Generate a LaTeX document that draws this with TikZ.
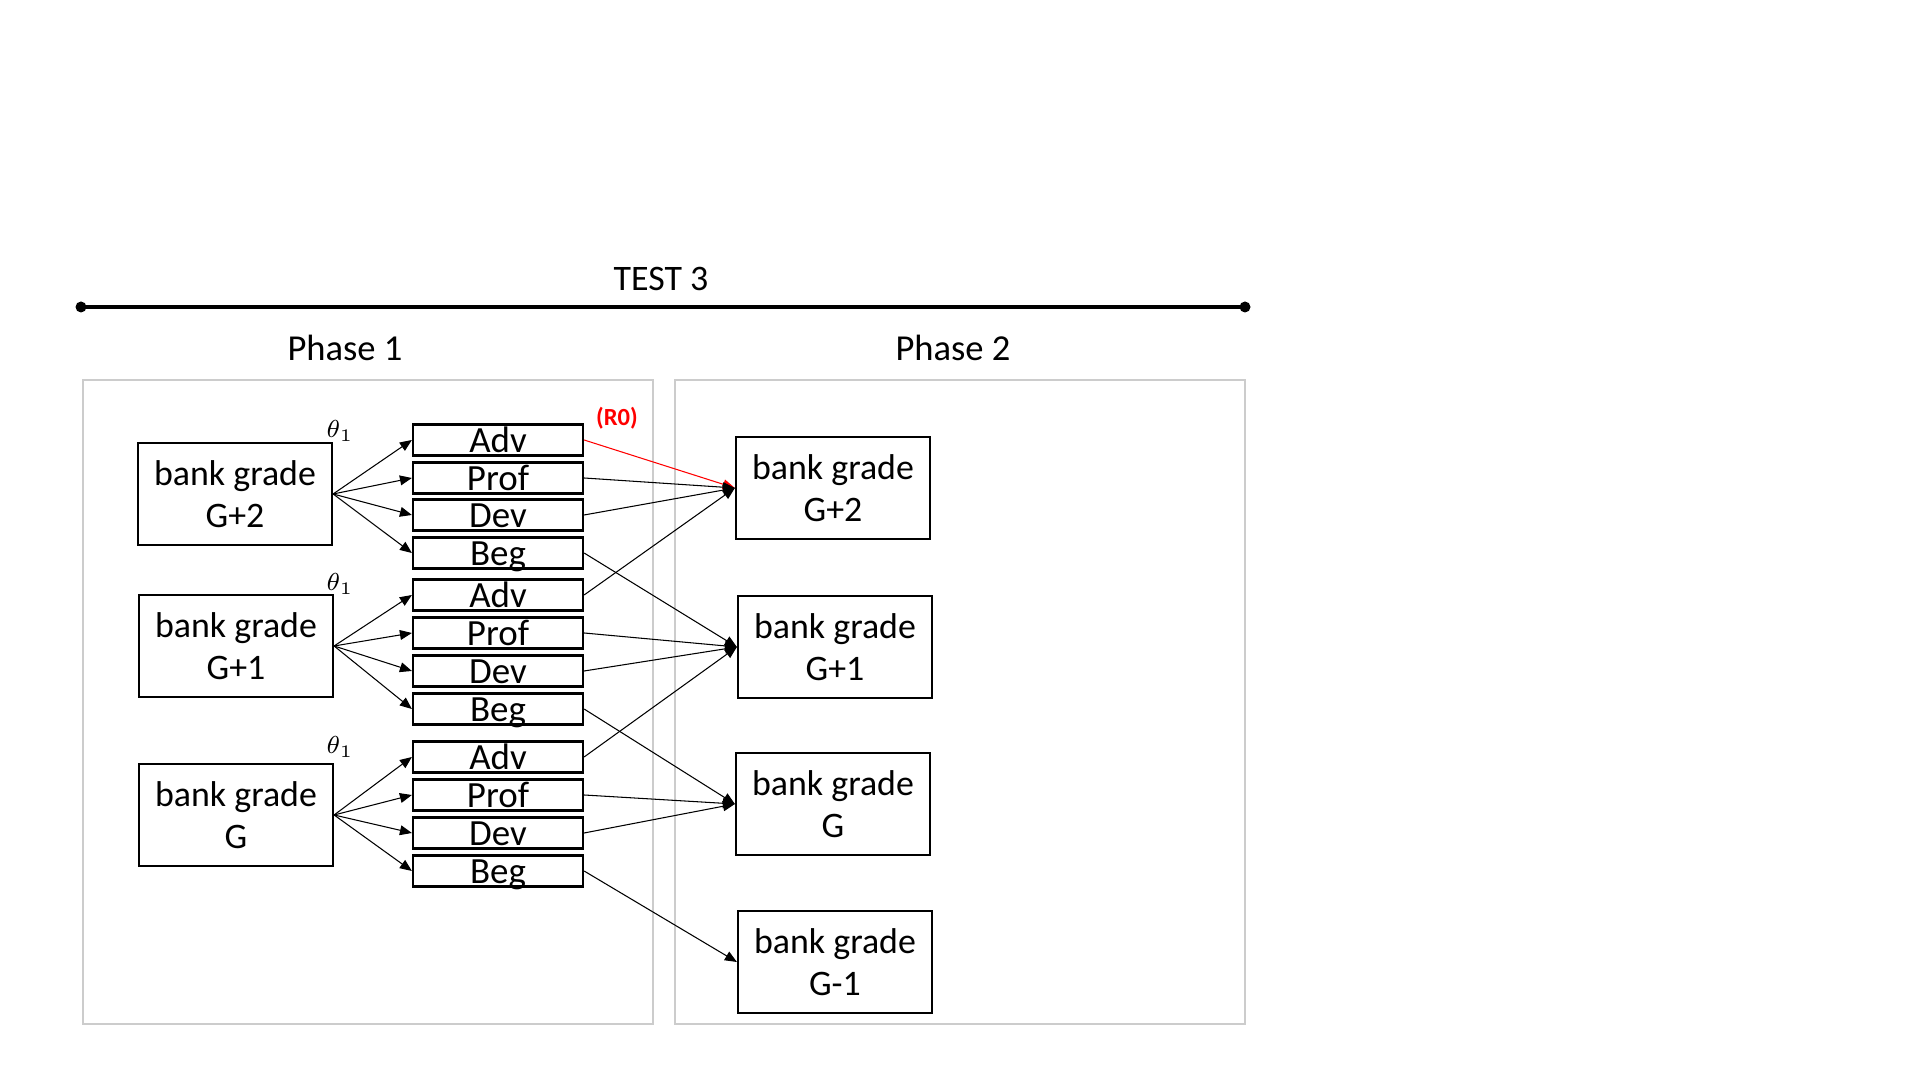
\documentclass[tikz,border=0pt]{standalone}
\usepackage{fontspec}
\setmainfont{Carlito}
\usepackage{amsmath}
\usetikzlibrary{arrows.meta}
\usetikzlibrary{positioning}
\usepackage{xcolor}

\begin{document}
\begin{tikzpicture}[x=0.01cm,y=-0.01cm,
  grade/.style={draw,line width=0.6pt,minimum width=1.94cm,minimum height=1.02cm,inner sep=0pt,align=center,font=\fontsize{10.2}{11.9}\selectfont},
  level/.style={draw,line width=0.6pt,minimum width=1.7cm,minimum height=0.31cm,inner sep=0pt,text height=7.2pt,text depth=0pt,font=\fontsize{10.5}{10}\selectfont},
  phase/.style={draw=black!20,line width=0.5pt},
  link/.style={line width=0.3pt,-{Triangle[length=3.4pt,width=2.8pt]}}]
\useasboundingbox (0,0) rectangle (1920,1080);
% timeline
\coordinate (tl) at (81,307);
\coordinate (tr) at (1245,307);
\draw[line width=1.1pt] (tl)--(tr);
\fill (tl) circle(5.5) (tr) circle(5.5);
\node (test) at (661,279) {\fontsize{10.2}{12}\selectfont TEST 3};
\node (ph1) at (345,348) {\fontsize{10.4}{12}\selectfont Phase 1};
\node (ph2) at (953,348) {\fontsize{10.4}{12}\selectfont Phase 2};
\draw[phase] (83,380) rectangle (653,1024);
\draw[phase] (675,380) rectangle (1245,1024);

% phase 1, grades
\node[grade] (l2) at (235,494) {bank grade\\G+2};
\node[grade] (l1) at (236,646) {bank grade\\G+1};
\node[grade] (l0) at (236,815) {bank grade\\G};
\node (t2) at (340,431) {\fontsize{7}{7}\selectfont$\theta_1$};
\node (t1) at (340,584) {\fontsize{7}{7}\selectfont$\theta_1$};
\node (t0) at (340,747) {\fontsize{7}{7}\selectfont$\theta_1$};

% phase 1, levels
\node[level] (a2) at (498,440) {Adv};
\node[level] (p2) at (498,478) {Prof};
\node[level] (d2) at (498,515) {Dev};
\node[level] (b2) at (498,553) {Beg};
\node[level] (a1) at (498,595) {Adv};
\node[level] (p1) at (498,633) {Prof};
\node[level] (d1) at (498,671) {Dev};
\node[level] (b1) at (498,709) {Beg};
\node[level] (a0) at (498,757) {Adv};
\node[level] (p0) at (498,795) {Prof};
\node[level] (d0) at (498,833) {Dev};
\node[level] (b0) at (498,871) {Beg};
\node[text=red,font=\bfseries\fontsize{7}{7}\selectfont] (r0) at (617,418) {(R0)};

% phase 2, grades
\node[grade] (r2) at (833,488) {bank grade\\G+2};
\node[grade] (r1) at (835,647) {bank grade\\G+1};
\node[grade] (rg) at (833,804) {bank grade\\G};
\node[grade] (rm) at (835,962) {bank grade\\G-1};

% into the levels
\draw[link] (l2.east)--(a2.west);
\draw[link] (l2.east)--(p2.west);
\draw[link] (l2.east)--(d2.west);
\draw[link] (l2.east)--(b2.west);
\draw[link] (l1.east)--(a1.west);
\draw[link] (l1.east)--(p1.west);
\draw[link] (l1.east)--(d1.west);
\draw[link] (l1.east)--(b1.west);
\draw[link] (l0.east)--(a0.west);
\draw[link] (l0.east)--(p0.west);
\draw[link] (l0.east)--(d0.west);
\draw[link] (l0.east)--(b0.west);

% into phase 2
\draw[link,red] (a2.east)--(r2.west);
\draw[link] (p2.east)--(r2.west);
\draw[link] (d2.east)--(r2.west);
\draw[link] (b2.east)--(r1.west);
\draw[link] (a1.east)--(r2.west);
\draw[link] (p1.east)--(r1.west);
\draw[link] (d1.east)--(r1.west);
\draw[link] (b1.east)--(rg.west);
\draw[link] (a0.east)--(r1.west);
\draw[link] (p0.east)--(rg.west);
\draw[link] (d0.east)--(rg.west);
\draw[link] (b0.east)--(rm.west);
\end{tikzpicture}
\end{document}
